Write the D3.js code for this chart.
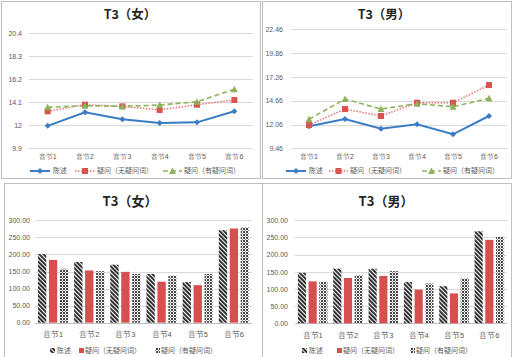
<!DOCTYPE html>
<html><head><meta charset="utf-8">
<script src="https://cdn.jsdelivr.net/npm/d3@7"></script>
<style>
html,body{margin:0;padding:0;background:#fff;}
svg{display:block;font-family:"Noto Sans CJK SC","Noto Sans",sans-serif;}
</style></head>
<body><svg id="c" width="519" height="357"></svg>
<script>
// ---------- DATA ----------
const categories = ["音节1","音节2","音节3","音节4","音节5","音节6"];
const seriesNames = ["陈述","疑问（无疑问词）","疑问（有疑问词）"];

// line charts (pitch)
const femaleLineTicks = [9.9, 12, 14.1, 16.2, 18.3, 20.4];
const femaleStatement = [11.95, 13.19, 12.55, 12.21, 12.27, 13.28];
const femaleQNoWord   = [13.28, 13.88, 13.73, 13.40, 13.88, 14.31];
const femaleQWithWord = [13.64, 13.79, 13.73, 13.85, 14.15, 15.29];

const maleLineTicks = [9.46, 12.06, 14.66, 17.26, 19.86, 22.46];
const maleStatement = [11.86, 12.66, 11.60, 12.08, 10.99, 12.99];
const maleQNoWord   = [12.00, 13.75, 12.99, 14.44, 14.44, 16.37];
const maleQWithWord = [12.63, 14.84, 13.75, 14.33, 14.00, 14.92];

// bar charts (duration)
const barTicks = [0, 50, 100, 150, 200, 250, 300];
const femaleBarStatement = [201, 178, 170, 143, 119, 271];
const femaleBarQNoWord   = [184, 153, 149, 120, 110, 276];
const femaleBarQWithWord = [158, 151, 143, 138, 143, 280];

const maleBarStatement = [147, 159, 159, 120, 108, 268];
const maleBarQNoWord   = [122, 132, 138, 98, 87, 243];
const maleBarQWithWord = [121, 141, 152, 116, 131, 252];

const titles = ["T3（女）","T3（男）"];

// ---------- DRAW ----------
const svg = d3.select("#c");
const defs = svg.append("defs");
// diagonal hatch (\\\ direction)
const p1 = defs.append("pattern").attr("id","hatch").attr("patternUnits","userSpaceOnUse")
  .attr("width",3).attr("height",3).attr("patternTransform","rotate(-45)");
p1.append("rect").attr("width",3).attr("height",3).attr("fill","#fff");
p1.append("rect").attr("width",1.9).attr("height",3).attr("fill","#262626");
// grid pattern
const p2 = defs.append("pattern").attr("id","grid").attr("patternUnits","userSpaceOnUse")
  .attr("width",3).attr("height",3);
p2.append("rect").attr("width",3).attr("height",3).attr("fill","#fff");
p2.append("rect").attr("width",2).attr("height",2).attr("fill","#444");
p2.append("rect").attr("x",2).attr("y",2).attr("width",1).attr("height",1).attr("fill","#888");

const colors = {blue:"#3A7DC4", red:"#D9534F", redLine:"#E57373", green:"#8DB35A", bar:"#D5504F"};

// panel borders
const panels = [[1,1,259,177],[262,1,249,177],[4,183,258,175],[262,183,249,175]];
panels.forEach(p=>svg.append("rect").attr("x",p[0]+0.5).attr("y",p[1]+0.5).attr("width",p[2]).attr("height",p[3])
  .attr("fill","none").attr("stroke","#bfbfbf").attr("stroke-width",1));

function marker(g, type, x, y, color){
  if(type==="diamond") g.append("path").attr("d",`M${x},${y-3}L${x+3},${y}L${x},${y+3}L${x-3},${y}Z`).attr("fill",color);
  else if(type==="square") g.append("rect").attr("x",x-3).attr("y",y-3).attr("width",6).attr("height",6).attr("fill",color);
  else g.append("path").attr("d",`M${x},${y-3.5}L${x+3.5},${y+3}L${x-3.5},${y+3}Z`).attr("fill",color);
}

function lineChart(cfg){
  const g = svg.append("g");
  const x = d3.scaleBand().domain(categories).range([cfg.x0,cfg.x1]);
  const y = d3.scaleLinear().domain([cfg.ticks[0], cfg.ticks[cfg.ticks.length-1]]).range([cfg.yb,cfg.yt]);
  g.selectAll("line.gr").data(cfg.ticks).join("line").attr("x1",cfg.x0).attr("x2",cfg.x1)
    .attr("y1",d=>Math.round(y(d))+0.5).attr("y2",d=>Math.round(y(d))+0.5)
    .attr("stroke","#d9d9d9").attr("stroke-width",1);
  const ya = d3.axisLeft(y).tickValues(cfg.ticks).tickSize(0).tickFormat(d=>String(d));
  const yg = g.append("g").attr("transform",`translate(${cfg.labelX},0)`).call(ya);
  yg.select(".domain").remove();
  yg.selectAll("text").attr("font-size",7).attr("fill","#595959").attr("x",0).attr("dy","0.32em");
  const xa = d3.axisBottom(x).tickSize(0);
  const xg = g.append("g").attr("transform",`translate(0,${cfg.yb+3})`).call(xa);
  xg.select(".domain").remove();
  xg.selectAll("text").attr("font-size",7).attr("fill","#595959");
  const cx = d=>x(d)+x.bandwidth()/2;
  const series = [
    {v:cfg.s1, color:colors.blue, stroke:colors.blue, dash:null, w:2, m:"diamond"},
    {v:cfg.s2, color:colors.red, stroke:colors.redLine, dash:"1.5,1.5", w:1.5, m:"square"},
    {v:cfg.s3, color:colors.green, stroke:colors.green, dash:"5,3", w:1.6, m:"tri"}
  ];
  const line = d3.line().x((d,i)=>cx(categories[i])).y(d=>y(d));
  series.forEach(s=>{
    g.append("path").datum(s.v).attr("d",line).attr("fill","none").attr("stroke",s.stroke)
      .attr("stroke-width",s.w).attr("stroke-dasharray",s.dash);
  });
  series.forEach(s=>{ s.v.forEach((v,i)=>marker(g,s.m,cx(categories[i]),y(v),s.color)); });
  g.append("text").attr("x",cfg.tx).attr("y",18.5).attr("text-anchor","middle").attr("font-size",12.5)
    .attr("font-weight","bold").attr("fill","#262626").text(cfg.title);
  cfg.legend.forEach((L,i)=>{
    const s = series[i];
    g.append("line").attr("x1",L[0]).attr("x2",L[1]).attr("y1",cfg.ly).attr("y2",cfg.ly)
      .attr("stroke",s.stroke).attr("stroke-width",s.w).attr("stroke-dasharray",s.dash);
    marker(g,s.m,(L[0]+L[1])/2,cfg.ly,s.color);
    g.append("text").attr("x",L[2]).attr("y",cfg.ly).attr("dy","0.35em").attr("font-size",7)
      .attr("fill","#595959").text(seriesNames[i]);
  });
}

function barChart(cfg){
  const g = svg.append("g");
  const x = d3.scaleBand().domain(categories).range([cfg.x0,cfg.x1]);
  const xi = d3.scaleBand().domain(seriesNames).range([0,x.bandwidth()]).paddingInner(0.24).paddingOuter(0.27);
  const y = d3.scaleLinear().domain([0,300]).range([cfg.yb,cfg.yt]);
  g.selectAll("line.gr").data(barTicks).join("line").attr("x1",cfg.x0).attr("x2",cfg.x1)
    .attr("y1",d=>Math.round(y(d))+0.5).attr("y2",d=>Math.round(y(d))+0.5)
    .attr("stroke",d=>d===0?"#bfbfbf":"#d9d9d9").attr("stroke-width",1);
  const ya = d3.axisLeft(y).tickValues(barTicks).tickSize(0).tickFormat(d3.format(".2f"));
  const yg = g.append("g").attr("transform",`translate(${cfg.labelX},0)`).call(ya);
  yg.select(".domain").remove();
  yg.selectAll("text").attr("font-size",7).attr("fill","#595959").attr("x",0).attr("dy","0.32em");
  const xa = d3.axisBottom(x).tickSize(0);
  const xg = g.append("g").attr("transform",`translate(0,${cfg.yb+6})`).call(xa);
  xg.select(".domain").remove();
  xg.selectAll("text").attr("font-size",7.5).attr("fill","#595959");
  const fills = ["url(#hatch)", colors.bar, "url(#grid)"];
  [cfg.s1,cfg.s2,cfg.s3].forEach((vals,si)=>{
    g.selectAll(null).data(vals).join("rect")
      .attr("x",(d,i)=>x(categories[i])+xi(seriesNames[si]))
      .attr("width",xi.bandwidth())
      .attr("y",d=>y(d)).attr("height",d=>y(0)-y(d))
      .attr("fill",fills[si]);
  });
  g.append("text").attr("x",cfg.tx).attr("y",206).attr("text-anchor","middle").attr("font-size",13)
    .attr("font-weight","600").attr("fill","#262626").text(cfg.title);
  cfg.legend.forEach((L,i)=>{
    g.append("rect").attr("x",L[0]).attr("y",cfg.ly-2.5).attr("width",5).attr("height",5).attr("fill",fills[i]);
    g.append("text").attr("x",L[1]).attr("y",cfg.ly).attr("dy","0.35em").attr("font-size",7)
      .attr("fill","#595959").text(seriesNames[i]);
  });
}

lineChart({x0:29,x1:253,yt:33.3,yb:148.3,ticks:femaleLineTicks,labelX:22,
  s1:femaleStatement,s2:femaleQNoWord,s3:femaleQWithWord,title:titles[0],tx:130,ly:171,
  legend:[[30,50,53],[75,95,97],[163,182,184]]});
lineChart({x0:291,x1:507,yt:29.3,yb:148.3,ticks:maleLineTicks,labelX:283,
  s1:maleStatement,s2:maleQNoWord,s3:maleQWithWord,title:titles[1],tx:384,ly:171,
  legend:[[286,306,309],[329,348,350],[422,441,443]]});
barChart({x0:35,x1:252,yt:220.3,yb:322.7,labelX:30,
  s1:femaleBarStatement,s2:femaleBarQNoWord,s3:femaleBarQWithWord,title:titles[0],tx:130,ly:350.5,
  legend:[[50,57],[79,85],[155,161]]});
barChart({x0:295,x1:507,yt:220.3,yb:323.3,labelX:288,
  s1:maleBarStatement,s2:maleBarQNoWord,s3:maleBarQWithWord,title:titles[1],tx:386,ly:350.5,
  legend:[[302,309],[337,343],[410,416]]});
</script></body></html>
